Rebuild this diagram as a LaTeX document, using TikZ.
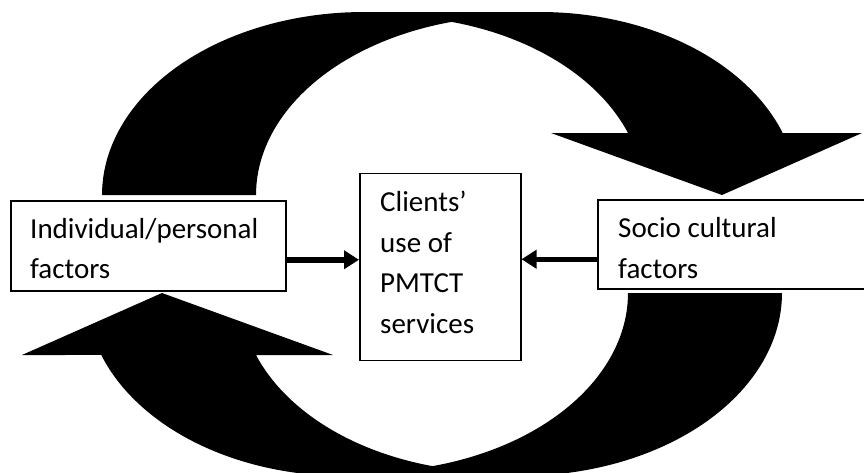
\documentclass[tikz,border=0pt]{standalone}
\usepackage{fontspec}
\setmainfont{Carlito}
\usetikzlibrary{arrows.meta}
\tikzset{
  factorbox/.style={draw=black, line width=1.5pt, fill=white, rectangle, inner sep=0pt, anchor=north west},
  label/.style={anchor=base west, inner sep=0pt, font=\fontsize{29}{35}\selectfont},
  conn/.style={line width=5.5pt, -{Triangle[length=15pt,width=18pt]}},
  bigarrow/.style={fill=black, draw=none}
}
\begin{document}
\begin{tikzpicture}[x=1pt,y=-1pt]
\useasboundingbox (0,0) rectangle (864,472);
\clip (0,0) rectangle (864,472);
% curved arrows
\def\curvedarrow{%
  \fill[bigarrow] (102,195)
    -- plot[domain=180:90, samples=50, variable=\t] ({364+262*cos(\t)},{195-183*sin(\t)})
    -- (540,12)
    -- plot[domain=90:19.8, samples=50, variable=\t] ({540+258*cos(\t)},{195-183*sin(\t)})
    -- (862,133) -- (722,195) -- (551,133) -- (628.8,133)
    -- plot[domain=19.8:75.2, samples=50, variable=\t] ({386+258*cos(\t)},{195-179*sin(\t)})
    -- plot[domain=104.6:180, samples=50, variable=\t] ({518+262*cos(\t)},{195-179*sin(\t)})
    -- cycle;}
\curvedarrow
\begin{scope}[rotate around={180:(442,244)}]
\curvedarrow
\end{scope}
% boxes
\node[factorbox, minimum width=275pt, minimum height=90pt] (ind) at (10,200) {};
\node[factorbox, minimum width=161pt, minimum height=187pt] (ctr) at (359,172.5) {};
\node[factorbox, minimum width=300pt, minimum height=89pt] (soc) at (597,199) {};
% texts
\node[label] (ind1) at (30,238) {Individual/personal};
\node[label] (ind2) at (30,278) {factors};
\node[label] (ctr1) at (380,211) {Clients’};
\node[label] (ctr2) at (380,252) {use of};
\node[label] (ctr3) at (380,292) {PMTCT};
\node[label] (ctr4) at (380,333) {services};
\node[label] (soc1) at (618,237) {Socio cultural};
\node[label] (soc2) at (618,278) {factors};
% connectors
\draw[conn] ([yshift=-14pt]ind.east) -- ([yshift=-14pt]ind.east -| ctr.west);
\draw[conn] ([yshift=-15pt]soc.west) -- ([yshift=-15pt]soc.west -| ctr.east);
\end{tikzpicture}
\end{document}
